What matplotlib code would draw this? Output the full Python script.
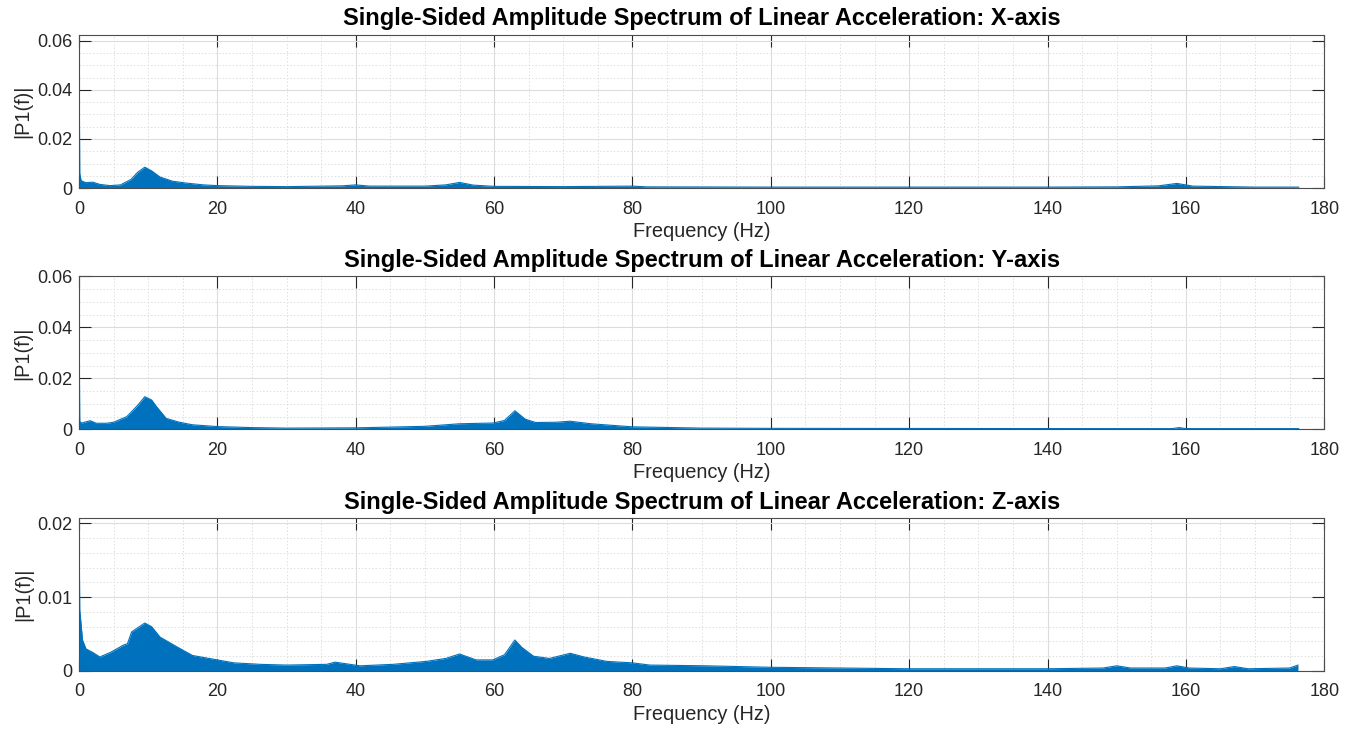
import numpy as np
import matplotlib.pyplot as plt
from matplotlib.ticker import MultipleLocator, FuncFormatter

plt.rcParams['font.family'] = ['Liberation Sans', 'DejaVu Sans']

# envelope of the single-sided spectra (Hz, |P1(f)|)
freq_x = [0, 0.1, 0.3, 1.0, 2.0, 3.0, 4.5, 6.0, 7.5, 8.5, 9.5, 10.5, 11.7, 13.5, 15.6, 18, 20, 25, 30,
          38, 40, 42, 50, 53, 55, 57, 60, 70, 80, 82, 100, 120, 140, 150, 156, 158.7, 161, 170, 176.3]
amp_x = [0.0623, 0.006, 0.003, 0.0022, 0.0024, 0.0015, 0.001, 0.0013, 0.0035, 0.0065, 0.0085, 0.007,
         0.0045, 0.0028, 0.002, 0.0013, 0.001, 0.0007, 0.0006, 0.0009, 0.0013, 0.0008, 0.0008, 0.0013,
         0.0023, 0.0012, 0.0007, 0.0006, 0.0008, 0.0005, 0.0004, 0.0004, 0.0004, 0.0005, 0.0009, 0.0019,
         0.0008, 0.0004, 0.0004]

freq_y = [0, 0.1, 0.4, 1.6, 2.5, 4, 5, 6.9, 8.5, 9.5, 10.5, 11.2, 12.6, 14.5, 16.4, 20, 25, 30, 40, 45,
          50, 55, 59.9, 61.5, 63, 64.5, 66, 69, 71, 74, 78, 80, 90, 100, 150, 158, 159, 160, 176.3]
amp_y = [0.0494, 0.003, 0.0025, 0.0034, 0.0024, 0.0024, 0.0028, 0.005, 0.0095, 0.0128, 0.0115, 0.0089,
         0.0043, 0.0028, 0.0018, 0.0011, 0.0007, 0.0005, 0.0006, 0.0009, 0.0012, 0.0022, 0.0025, 0.0035,
         0.0073, 0.004, 0.0027, 0.0028, 0.0032, 0.0022, 0.0014, 0.001, 0.0005, 0.0004, 0.0003, 0.0003,
         0.0007, 0.0003, 0.0003]

freq_z = [0, 0.1, 0.5, 1.0, 2.0, 3.0, 4.5, 6.4, 7.0, 7.6, 9.5, 10.5, 11.7, 14.1, 16.4, 20, 22.4, 26.2,
          30, 35.8, 37, 40.6, 45.4, 50.2, 53, 55, 57.4, 59.8, 61.5, 63, 64, 65.7, 68, 71, 73, 76.3, 80,
          82.5, 90.7, 100, 110, 120, 140, 148, 150, 152, 157, 158.7, 160.5, 165, 167, 169, 175, 176.2]
amp_z = [0.0207, 0.0083, 0.0042, 0.003, 0.0025, 0.0019, 0.0025, 0.0035, 0.0037, 0.0053, 0.0065, 0.006,
         0.0046, 0.0033, 0.0021, 0.0015, 0.0011, 0.0009, 0.0008, 0.0009, 0.0012, 0.0007, 0.0009, 0.0013,
         0.0017, 0.0023, 0.0015, 0.0015, 0.0022, 0.0042, 0.0032, 0.002, 0.0017, 0.0024, 0.0019, 0.0013,
         0.0011, 0.0008, 0.0007, 0.0005, 0.0004, 0.0003, 0.0003, 0.0004, 0.0007, 0.0004, 0.0004, 0.0007,
         0.0004, 0.0003, 0.0006, 0.0003, 0.0004, 0.0008]

axis_names = ['X', 'Y', 'Z']
ylims = [0.0623, 0.06, 0.0207]
ymajor = [0.02, 0.02, 0.01]
yminor = [0.005, 0.005, 0.002]

blue = '#0072BD'
txt = '#262626'

fig = plt.figure(figsize=(13.51, 7.29), dpi=100)
boxes = [[0.0585, 0.742, 0.9217, 0.210],
         [0.0585, 0.411, 0.9217, 0.210],
         [0.0585, 0.0796, 0.9217, 0.2094]]

series = [(freq_x, amp_x), (freq_y, amp_y), (freq_z, amp_z)]

for i, (f, a) in enumerate(series):
    ax = fig.add_axes(boxes[i])
    ax.fill_between(f, 0, a, color=blue, linewidth=0)
    ax.plot(f, a, color=blue, linewidth=0.8)
    ax.set_xlim(0, 180)
    ax.set_ylim(0, ylims[i])
    ax.xaxis.set_major_locator(MultipleLocator(20))
    ax.xaxis.set_minor_locator(MultipleLocator(5))
    ax.yaxis.set_major_locator(MultipleLocator(ymajor[i]))
    ax.yaxis.set_minor_locator(MultipleLocator(yminor[i]))
    ax.yaxis.set_major_formatter(FuncFormatter(lambda v, p: '0' if abs(v) < 1e-12 else f'{v:g}'))
    ax.grid(True, which='major', color='#dcdcdc', linewidth=0.8)
    ax.grid(True, which='minor', color='#dedede', linestyle=(0, (1.5, 2)), linewidth=0.7)
    ax.set_axisbelow(True)
    ax.tick_params(which='major', direction='in', length=8.6, width=0.8, top=True, right=True,
                   labelsize=13, colors=txt)
    ax.tick_params(axis='x', which='major', pad=9)
    ax.tick_params(axis='y', which='major', pad=5)
    ax.tick_params(which='minor', length=0)
    for s in ax.spines.values():
        s.set_color('#4d4d4d')
        s.set_linewidth(0.8)
    ax.set_title(f'Single-Sided Amplitude Spectrum of Linear Acceleration: {axis_names[i]}-axis',
                 fontsize=17, fontweight='bold', color='black', pad=7)
    ax.set_xlabel('Frequency (Hz)', fontsize=14.4, color=txt, labelpad=3)
    ax.set_ylabel('|P1(f)|', fontsize=14.4, color=txt, labelpad=3)

fig.savefig('out.png', dpi=100)
